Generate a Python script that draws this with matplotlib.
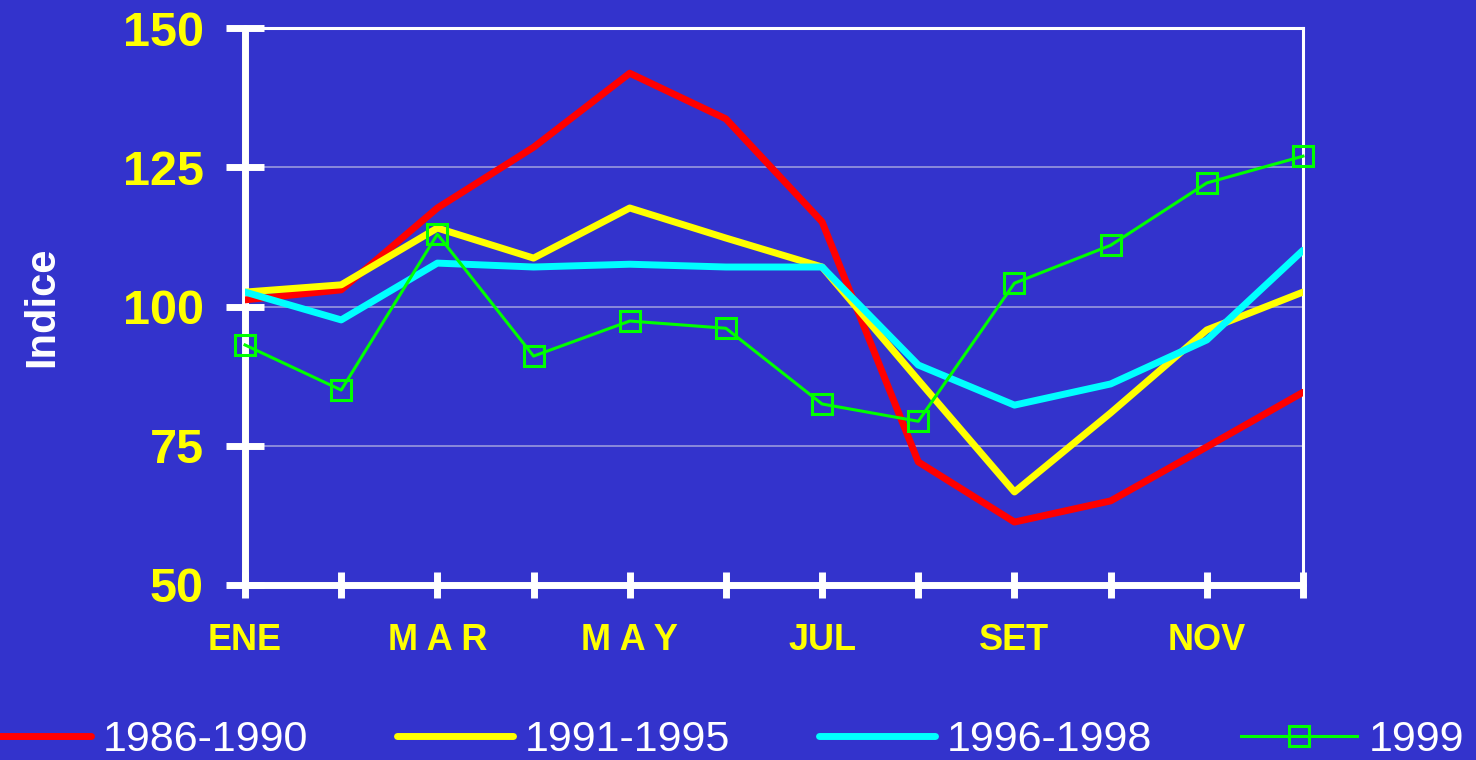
import matplotlib.pyplot as plt
import numpy as np

# Données (indice mensuel)
meses = ['ENE', 'FEB', 'MAR', 'ABR', 'MAY', 'JUN', 'JUL', 'AGO', 'SET', 'OCT', 'NOV', 'DIC']
etiquetas_x = ['ENE', '', 'M A R', '', 'M A Y', '', 'JUL', '', 'SET', '', 'NOV', '']
serie_1986_1990 = [101.2, 103.0, 117.7, 128.6, 141.9, 133.7, 115.2, 72.1, 61.3, 65.1, 74.8, 84.6]
serie_1991_1995 = [102.6, 103.9, 114.1, 108.7, 117.7, 112.3, 107.1, 86.8, 66.7, 80.9, 95.8, 102.6]
serie_1996_1998 = [102.6, 97.6, 107.8, 107.1, 107.6, 107.1, 107.1, 89.5, 82.3, 86.1, 94.0, 110.1]
serie_1999 = [93.1, 85.0, 113.0, 91.1, 97.4, 96.1, 82.5, 79.4, 104.2, 111.0, 122.2, 127.0]
yticks = [50, 75, 100, 125, 150]

fondo = '#3333CC'
plt.rcParams['font.family'] = ['Liberation Sans', 'DejaVu Sans']

fig = plt.figure(figsize=(14.76, 7.6), dpi=100, facecolor=fondo)
ax = fig.add_axes([0.166, 0.2303, 0.7168, 0.7327])
ax.set_facecolor(fondo)

x = np.arange(len(meses))

ax.plot(x, serie_1986_1990, color='#FF0000', lw=5, solid_capstyle='round', solid_joinstyle='round', label='1986-1990', zorder=3)
ax.plot(x, serie_1991_1995, color='#FFFF00', lw=5, solid_capstyle='round', solid_joinstyle='round', label='1991-1995', zorder=3)
ax.plot(x, serie_1996_1998, color='#00FFFF', lw=5, solid_capstyle='round', solid_joinstyle='round', label='1996-1998', zorder=3)
ax.plot(x, serie_1999, color='#00FF00', lw=2.2, marker='s', ms=14, mfc='none', mec='#00FF00', mew=2.2,
        label='1999', zorder=4, clip_on=False)

ax.set_xlim(0, len(meses) - 1)
ax.set_ylim(50, 150)

# Quadrillage
for v in yticks[1:-1]:
    ax.axhline(v, color='#9999DD', lw=1.2, zorder=1)

for s in ['top', 'right']:
    ax.spines[s].set_color('white')
    ax.spines[s].set_linewidth(2.2)
for s in ['left', 'bottom']:
    ax.spines[s].set_color('white')
    ax.spines[s].set_linewidth(5)
    ax.spines[s].set_capstyle('round')

ax.set_xticks(x)
ax.set_xticklabels(etiquetas_x, color='#FFFF00', fontsize=26, fontweight='bold')
ax.set_yticks(yticks)
ax.set_yticklabels([str(v) for v in yticks], color='#FFFF00', fontsize=35, fontweight='bold')
ax.tick_params(axis='x', direction='inout', length=19, width=5, color='white', pad=18)
ax.tick_params(axis='y', direction='inout', length=27, width=5, color='white', pad=16)
for t in ax.xaxis.get_ticklines() + ax.yaxis.get_ticklines():
    t.set_solid_capstyle('round')

ax.set_ylabel('Indice', color='white', fontsize=30, fontweight='bold', labelpad=44)

leg = fig.legend(loc='lower left', bbox_to_anchor=(-0.017, 0.0), ncol=4, frameon=False,
                 fontsize=31, handlelength=2.7, handletextpad=0.28, columnspacing=2.05,
                 numpoints=1, borderpad=0, borderaxespad=0)
for t in leg.get_texts():
    t.set_color('white')

fig.savefig('out.png', dpi=100, facecolor=fondo)
